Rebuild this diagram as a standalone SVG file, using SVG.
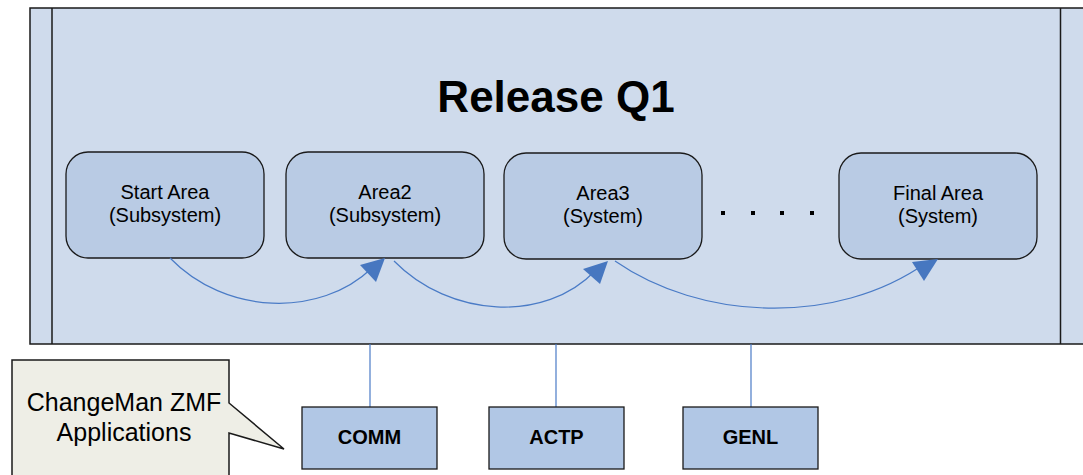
<svg xmlns="http://www.w3.org/2000/svg" width="1083" height="475" viewBox="0 0 1083 475">
<defs>
<style>
.frame{fill:#cfdbec;stroke:#1a1a1a;stroke-width:1.5}
.area{fill:#b9cbe4;stroke:#1a1a1a;stroke-width:1.3}
.app{fill:#b1c7e5;stroke:#1a1a1a;stroke-width:1.3}
.conn{fill:none;stroke:#4a7bc6;stroke-width:1.2}
.head{fill:#4777c0;stroke:none}
.t{font-family:"Liberation Sans",Arial,sans-serif;fill:#000;text-anchor:middle}
.nt{font-size:20px}
.bt{font-size:20px;font-weight:bold}
</style>
</defs>
<g id="release">
<rect class="frame" x="30" y="8" width="1070" height="336"/>
<line x1="52" y1="8" x2="52" y2="344" stroke="#1a1a1a" stroke-width="1.5"/>
<line x1="1060.5" y1="8" x2="1060.5" y2="344" stroke="#1a1a1a" stroke-width="1.5"/>
<text class="t" x="556" y="112" font-size="44" font-weight="bold">Release Q1</text>
</g>
<g id="start-area">
<rect class="area" x="66" y="152" width="198" height="106" rx="22"/>
<text class="t nt" x="165" y="199">Start Area</text>
<text class="t nt" x="165" y="222">(Subsystem)</text>
</g>
<g id="area2">
<rect class="area" x="286" y="152" width="198" height="106" rx="22"/>
<text class="t nt" x="385" y="199">Area2</text>
<text class="t nt" x="385" y="222">(Subsystem)</text>
</g>
<g id="area3">
<rect class="area" x="504" y="153" width="198" height="106" rx="22"/>
<text class="t nt" x="603" y="200">Area3</text>
<text class="t nt" x="603" y="223">(System)</text>
</g>
<g id="ellipsis">
<rect x="721" y="211" width="4" height="4" fill="#000"/>
<rect x="751" y="211" width="4" height="4" fill="#000"/>
<rect x="780" y="211" width="4" height="4" fill="#000"/>
<rect x="810" y="211" width="4" height="4" fill="#000"/>
</g>
<g id="final-area">
<rect class="area" x="839" y="153" width="198" height="106" rx="22"/>
<text class="t nt" x="938" y="200">Final Area</text>
<text class="t nt" x="938" y="223">(System)</text>
</g>
<g id="connectors">
<path class="conn" d="M170,258 C225,315 320,318 372,268"/>
<polygon class="head" points="385,258 360,265 376,282"/>
<path class="conn" d="M394,261 C450,318 545,323 595,271"/>
<polygon class="head" points="608,261 583,269 600,284"/>
<path class="conn" d="M615,261 C700,320 835,327 926,263"/>
<polygon class="head" points="938,259 912,262 924,281"/>
<line class="conn" x1="370" y1="344" x2="370" y2="407"/>
<line class="conn" x1="556" y1="344" x2="556" y2="407"/>
<line class="conn" x1="751" y1="344" x2="751" y2="407"/>
</g>
<g id="comm">
<rect class="app" x="302" y="407" width="135" height="62"/>
<text class="t bt" x="369.5" y="444">COMM</text>
</g>
<g id="actp">
<rect class="app" x="489" y="407" width="135" height="62"/>
<text class="t bt" x="556.5" y="444">ACTP</text>
</g>
<g id="genl">
<rect class="app" x="683" y="407" width="135" height="62"/>
<text class="t bt" x="750.5" y="444">GENL</text>
</g>
<g id="callout">
<path d="M12,480 L12,360 L229,360 L229,403 L284,449 L229,433 L229,480" fill="#eeeee6" stroke="#1a1a1a" stroke-width="1.5"/>
<text class="t" x="124" y="411" font-size="25">ChangeMan ZMF</text>
<text class="t" x="124" y="441" font-size="25">Applications</text>
</g>
</svg>
